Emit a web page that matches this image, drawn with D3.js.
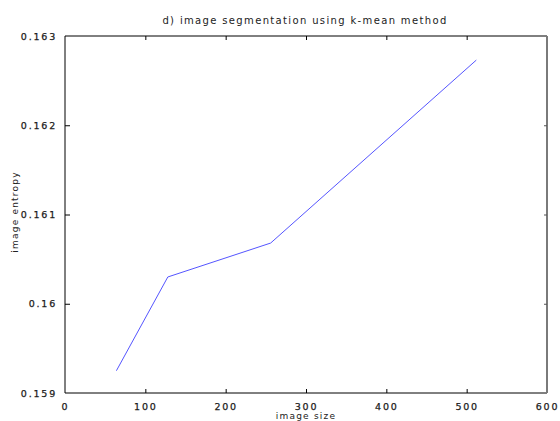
<!DOCTYPE html>
<html><head><meta charset="utf-8">
<script src="https://cdn.jsdelivr.net/npm/d3@7"></script>
<style>
html,body{margin:0;padding:0;background:#fff;}
svg{display:block;}
text{font-family:"DejaVu Sans",sans-serif;fill:#222;}
</style></head>
<body>
<svg id="chart" width="560" height="421"></svg>
<script>
const imageSize = [64, 128, 256, 512];
const imageEntropy = [0.15925, 0.16030, 0.16068, 0.16273];
const xTicks = [0, 100, 200, 300, 400, 500, 600];
const yTicks = [0.159, 0.16, 0.161, 0.162, 0.163];
const yTickLabels = ["0.159", "0.16", "0.161", "0.162", "0.163"];
const titleText = "d) image segmentation using k-mean method";
const xLabel = "image size";
const yLabel = "image entropy";

const svg = d3.select("#chart");
const L = 65, R = 547, T = 36, B = 393;
const x = d3.scaleLinear().domain([0, 600]).range([L, R]);
const y = d3.scaleLinear().domain([0.159, 0.163]).range([B, T]);

// frame
svg.append("line").attr("x1", L).attr("x2", R).attr("y1", T).attr("y2", T).attr("stroke", "#000").attr("stroke-width", 1);
svg.append("line").attr("x1", L).attr("x2", R).attr("y1", B).attr("y2", B).attr("stroke", "#000").attr("stroke-width", 1);
svg.append("line").attr("x1", L).attr("x2", L).attr("y1", T).attr("y2", B).attr("stroke", "#000").attr("stroke-width", 1);
svg.append("line").attr("x1", R).attr("x2", R).attr("y1", T).attr("y2", B).attr("stroke", "#7a7a7a").attr("stroke-width", 2);

function styleTickText(sel) {
  sel.attr("font-size", 9.5).attr("letter-spacing", 1.8).attr("font-family", "DejaVu Sans")
     .attr("fill", "#1a1a1a").attr("stroke", "#1a1a1a").attr("stroke-width", 0.25);
}

// bottom axis
const xAxis = d3.axisBottom(x).tickValues(xTicks).tickSizeInner(-4).tickSizeOuter(0).tickPadding(10).tickFormat(d3.format("d"));
const gx = svg.append("g").attr("transform", `translate(0,${B})`).call(xAxis);
gx.select(".domain").remove();
gx.selectAll(".tick line").attr("stroke", "#000").filter(d => d === 0 || d === 600).remove();
styleTickText(gx.selectAll("text"));

// top ticks
const gxt = svg.append("g").attr("transform", `translate(0,${T})`).call(d3.axisTop(x).tickValues(xTicks.slice(1, -1)).tickSizeInner(-4).tickSizeOuter(0).tickFormat(""));
gxt.select(".domain").remove();
gxt.selectAll(".tick line").attr("stroke", "#000");

// left axis
const yAxis = d3.axisLeft(y).tickValues(yTicks).tickSizeInner(-5).tickSizeOuter(0).tickPadding(8).tickFormat((d, i) => yTickLabels[i]);
const gy = svg.append("g").attr("transform", `translate(${L},0)`).call(yAxis);
gy.select(".domain").remove();
gy.selectAll(".tick line").attr("stroke", "#000").filter(d => d === 0.159 || d === 0.163).remove();
styleTickText(gy.selectAll("text"));

// right ticks
const gyr = svg.append("g").attr("transform", `translate(${R},0)`).call(d3.axisRight(y).tickValues(yTicks.slice(1, -1)).tickSizeInner(-3).tickSizeOuter(0).tickFormat(""));
gyr.select(".domain").remove();
gyr.selectAll(".tick line").attr("stroke", "#555");

// line
const line = d3.line().x((d, i) => x(imageSize[i])).y(d => y(d));
svg.append("path").datum(imageEntropy).attr("d", line).attr("fill", "none").attr("stroke", "#5555ff").attr("stroke-width", 1);

// title
svg.append("text").attr("x", 305).attr("y", 24).attr("text-anchor", "middle").attr("font-size", 10).attr("letter-spacing", 1.35).text(titleText);

// axis labels
svg.append("text").attr("x", 306).attr("y", 419).attr("text-anchor", "middle").attr("font-size", 9).attr("letter-spacing", 1.2).text(xLabel);
svg.append("text").attr("transform", "translate(18,212) rotate(-90)").attr("text-anchor", "middle").attr("font-size", 9).attr("letter-spacing", 1.2).text(yLabel);
</script>
</body></html>
